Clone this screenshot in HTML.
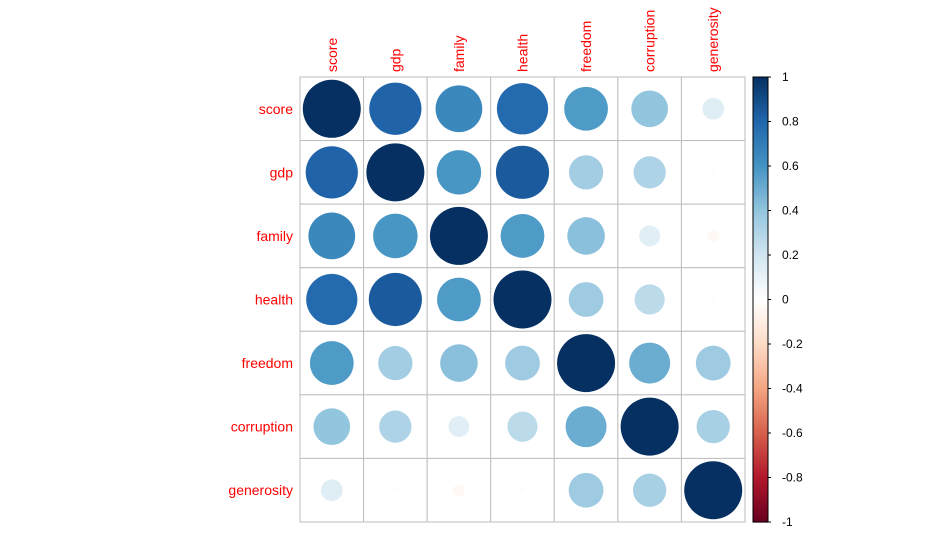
<!DOCTYPE html>
<html><head><meta charset="utf-8"><style>
html,body{margin:0;padding:0;background:#fff;}
svg{display:block;font-family:"Liberation Sans",Arial,sans-serif;}
</style></head><body>
<svg id="chart" width="950" height="538" viewBox="0 0 950 538"></svg>
<script>
const variables = ["score","gdp","family","health","freedom","corruption","generosity"];
const corrRows = [
  [1.00, 0.81, 0.65, 0.78, 0.57, 0.40, 0.14],
  [0.81, 1.00, 0.59, 0.84, 0.35, 0.31, -0.01],
  [0.65, 0.59, 1.00, 0.57, 0.42, 0.13, -0.04],
  [0.78, 0.84, 0.57, 1.00, 0.36, 0.27, -0.01],
  [0.57, 0.35, 0.42, 0.36, 1.00, 0.50, 0.36],
  [0.40, 0.31, 0.13, 0.27, 0.50, 1.00, 0.33],
  [0.14, -0.01, -0.04, -0.01, 0.36, 0.33, 1.00]
];
const legendTicks = [1,0.8,0.6,0.4,0.2,0,-0.2,-0.4,-0.6,-0.8,-1];
const legendLabels = ["1","0.8","0.6","0.4","0.2","0","-0.2","-0.4","-0.6","-0.8","-1"];
const palette = ["#67001F","#B2182B","#D6604D","#F4A582","#FDDBC7","#FFFFFF","#D1E5F0","#92C5DE","#4393C3","#2166AC","#053061"];

const NS="http://www.w3.org/2000/svg";
const svg=document.getElementById('chart');
const gx0=300,gx1=745,gy0=77,gy1=522,n=variables.length;
const cw=(gx1-gx0)/n, ch=(gy1-gy0)/n;
const xCenter=j=>gx0+cw*(j+0.5), yCenter=i=>gy0+ch*(i+0.5);
const maxR=29;
const radius=v=>maxR*Math.sqrt(Math.abs(v));
function hex2rgb(h){return [1,3,5].map(k=>parseInt(h.substr(k,2),16));}
function color(v){
  const t=(Math.max(-1,Math.min(1,v))+1)/2*(palette.length-1);
  const k=Math.min(palette.length-2,Math.floor(t)),f=t-k;
  const a=hex2rgb(palette[k]),b=hex2rgb(palette[k+1]);
  return 'rgb('+a.map((c,i)=>Math.round(c+(b[i]-c)*f)).join(',')+')';
}
function el(tag,attrs){const e=document.createElementNS(NS,tag);for(const k in attrs)e.setAttribute(k,attrs[k]);svg.appendChild(e);return e;}

// grid
for(let i=0;i<n;i++)for(let j=0;j<n;j++){
  const r=el('rect',{x:gx0+cw*j,y:gy0+ch*i,width:cw,height:ch,fill:'#fff',stroke:'#BEBEBE','stroke-width':1});
  
  
}
// circles
corrRows.forEach((row,i)=>row.forEach((v,j)=>{
  const c=el('circle',{cx:xCenter(j),cy:yCenter(i),r:radius(v),fill:color(v)});
  
  
}));
// row labels
variables.forEach((v,i)=>{
  const t=el('text',{x:293,y:yCenter(i)+5,'text-anchor':'end','font-size':14,fill:'#FF0000'});
  t.textContent=v;
  
  
});
// column labels
variables.forEach((v,j)=>{
  const x=xCenter(j)+5,y=72;
  const t=el('text',{x:x,y:y,transform:'rotate(-90 '+x+' '+y+')','font-size':14,fill:'#FF0000'});
  t.textContent=v;
  
  
});
// color legend
const lx=753,lw=15,ly0=77,ly1=522,steps=200;
const lyScale=v=>ly0+(1-v)/2*(ly1-ly0);
for(let s=0;s<steps;s++){
  const v=1-2*s/steps;
  const r=el('rect',{x:lx,y:ly0+(ly1-ly0)*s/steps,width:lw,height:(ly1-ly0)/steps+0.6,fill:color(v-1/steps)});
  
  
}
const lb=el('rect',{x:lx,y:ly0,width:lw,height:ly1-ly0,fill:'none',stroke:'#000','stroke-width':1});


legendTicks.forEach((v,k)=>{
  const y=lyScale(v);
  const tk=el('line',{x1:lx+lw,x2:lx+lw+3,y1:y,y2:y,stroke:'#000'});
  
  
  const t=el('text',{x:782,y:y+4,'font-size':12,fill:'#000'});
  t.textContent=legendLabels[k];
  
  
});
</script>
</body></html>
